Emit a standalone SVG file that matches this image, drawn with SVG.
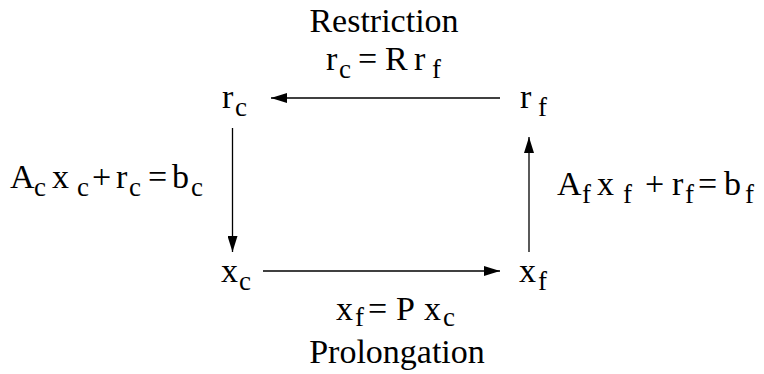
<svg xmlns="http://www.w3.org/2000/svg" width="764" height="374" viewBox="0 0 764 374">
<style>
.t{font-family:'Liberation Serif','Tinos','Noto Serif','DejaVu Serif','FreeSerif','Times New Roman',serif;font-size:34px;fill:#000}
.s{font-size:27px}
.c{stroke:#000;stroke-width:1.3;fill:none}
</style>
<defs>
<marker id="ah" viewBox="0 0 16 10" refX="16" refY="5" markerWidth="16" markerHeight="10" markerUnits="userSpaceOnUse" orient="auto">
<path d="M0,0 L16,5 L0,10 Z" fill="#000"/>
</marker>
</defs>
<rect width="764" height="374" fill="#fff"/>
<g id="connectors">
<line class="c" x1="500" y1="98" x2="271" y2="98" marker-end="url(#ah)"/>
<line class="c" x1="232.5" y1="128" x2="232.5" y2="252" marker-end="url(#ah)"/>
<line class="c" x1="263" y1="271" x2="500" y2="271" marker-end="url(#ah)"/>
<line class="c" x1="529" y1="252" x2="529" y2="137" marker-end="url(#ah)"/>
</g>
<g id="restriction-label" class="t">
<text x="384" y="32" text-anchor="middle">Restriction</text>
<text x="326" y="70">r</text><text class="s" x="339" y="78">c</text>
<text x="358" y="70">=</text><text x="385" y="70">R</text><text x="414" y="70">r</text><text class="s" x="432" y="78">f</text>
</g>
<g id="node-rc" class="t">
<text x="222" y="108">r</text><text class="s" x="235" y="116">c</text>
</g>
<g id="node-rf" class="t">
<text x="520" y="108">r</text><text class="s" x="538" y="116">f</text>
</g>
<g id="node-xc" class="t">
<text x="221" y="282">x</text><text class="s" x="239" y="290">c</text>
</g>
<g id="node-xf" class="t">
<text x="519" y="282">x</text><text class="s" x="538" y="290">f</text>
</g>
<g id="coarse-eq" class="t">
<text x="10" y="188">A</text><text class="s" x="34" y="196">c</text>
<text x="52" y="188">x</text><text class="s" x="77" y="196">c</text>
<text x="92" y="188">+</text><text x="116" y="188">r</text><text class="s" x="129" y="196">c</text>
<text x="148" y="188">=</text><text x="172" y="188">b</text><text class="s" x="191" y="196">c</text>
</g>
<g id="fine-eq" class="t">
<text x="557" y="195">A</text><text class="s" x="582" y="203">f</text>
<text x="597" y="195">x</text><text class="s" x="623" y="203">f</text>
<text x="645" y="195">+</text><text x="672" y="195">r</text><text class="s" x="685" y="203">f</text>
<text x="698" y="195">=</text><text x="724" y="195">b</text><text class="s" x="745" y="203">f</text>
</g>
<g id="prolongation-label" class="t">
<text x="336" y="320">x</text><text class="s" x="355" y="326">f</text>
<text x="368" y="320">=</text><text x="396" y="320">P</text><text x="424" y="320">x</text><text class="s" x="443" y="326">c</text>
<text x="397" y="363" text-anchor="middle">Prolongation</text>
</g>
</svg>
